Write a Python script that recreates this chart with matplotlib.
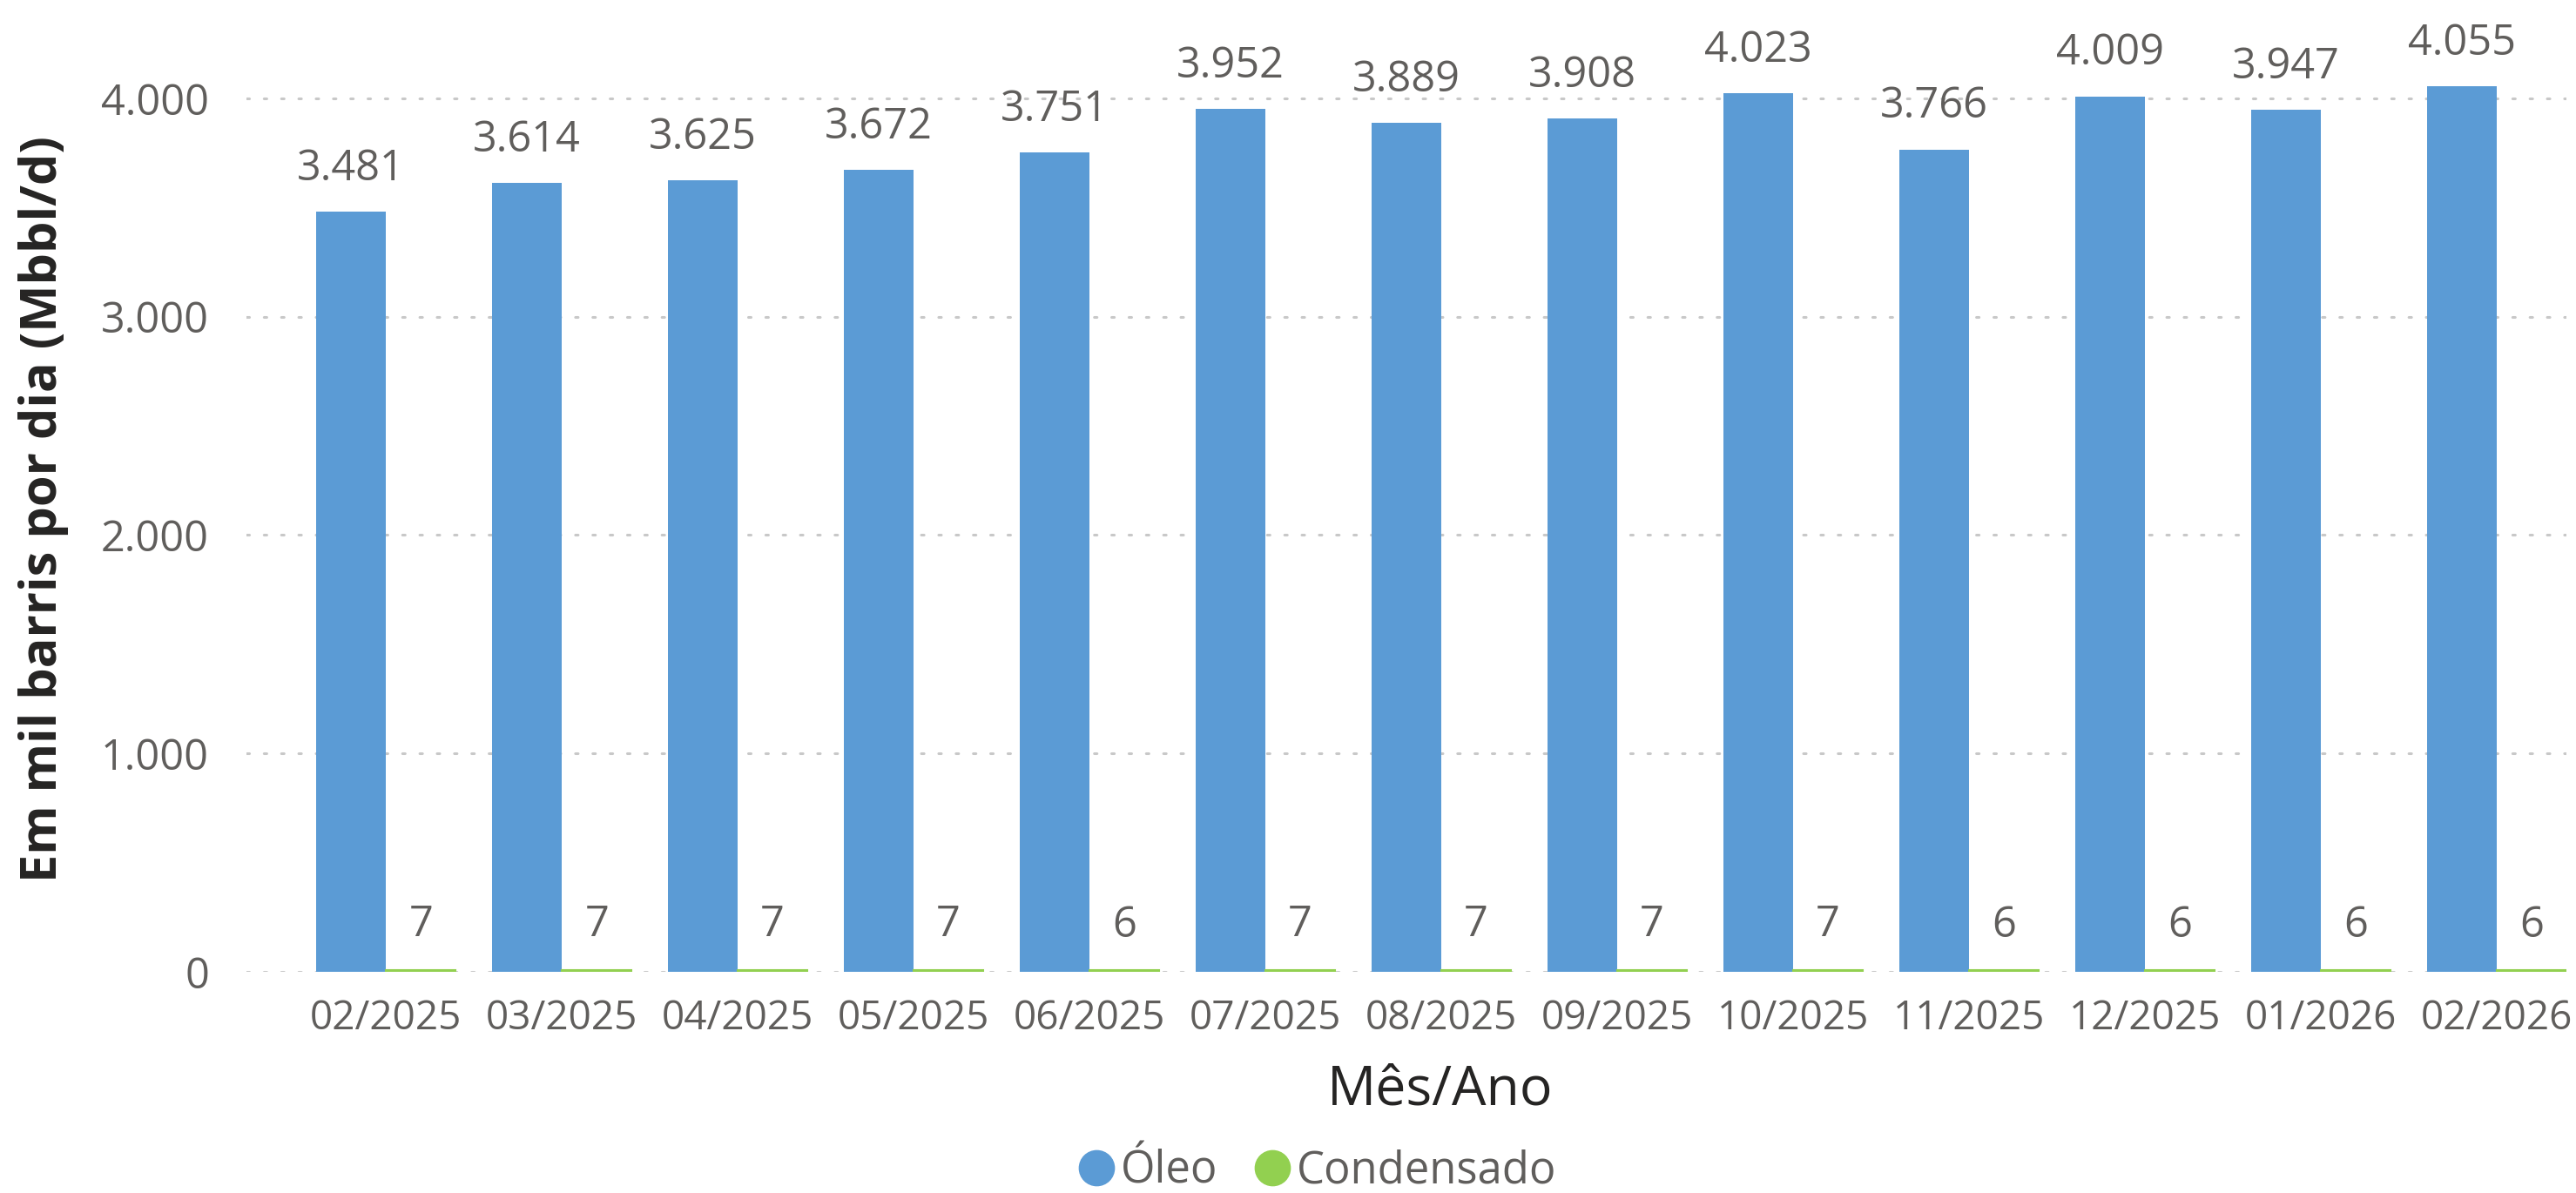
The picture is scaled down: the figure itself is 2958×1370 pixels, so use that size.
import matplotlib
matplotlib.use("Agg")
import matplotlib.pyplot as plt
from matplotlib.lines import Line2D
import numpy as np

plt.rcParams['font.family'] = ['Open Sans', 'DejaVu Sans']

months = ["02/2025", "03/2025", "04/2025", "05/2025", "06/2025", "07/2025",
          "08/2025", "09/2025", "10/2025", "11/2025", "12/2025", "01/2026", "02/2026"]
oleo = [3481, 3614, 3625, 3672, 3751, 3952, 3889, 3908, 4023, 3766, 4009, 3947, 4055]
condensado = [7, 7, 7, 7, 6, 7, 7, 7, 7, 6, 6, 6, 6]
series_names = ["Óleo", "Condensado"]
yticks = [0, 1000, 2000, 3000, 4000]
ytick_labels = ["0", "1.000", "2.000", "3.000", "4.000"]

BLUE = "#5B9BD5"
GREEN = "#92D050"
TICK = "#605E5C"
TITLE = "#252423"

W, H = 2958, 1370
fig = plt.figure(figsize=(W / 100, H / 100), dpi=100)
ax = fig.add_axes([283 / W, 1 - 1116 / H, (2947 - 283) / W, (1116 - 12.5) / H])

x = np.arange(len(months))
bw = 0.3965
ax.bar(x - bw / 2, oleo, width=bw, color=BLUE, zorder=3)
ax.bar(x + bw / 2, condensado, width=bw, color=GREEN, edgecolor=GREEN, linewidth=1.5, zorder=3)

def fmt(v):
    return f"{v:,}".replace(",", ".")

for xi, v in zip(x, oleo):
    ax.annotate(fmt(v), (xi - bw / 2, v), xytext=(0, 26), textcoords="offset points",
                ha="center", va="baseline", fontsize=35, color=TICK)
for xi, v in zip(x, condensado):
    ax.annotate(fmt(v), (xi + bw / 2, v), xytext=(0, 28), textcoords="offset points",
                ha="center", va="baseline", fontsize=35, color=TICK)

ax.set_xlim(-0.793, 12.3965)
ax.set_ylim(0, 4400)
ax.set_yticks(yticks)
ax.set_yticklabels(ytick_labels)
ax.set_xticks(x)
ax.set_xticklabels(months)
ax.tick_params(axis="y", length=0, pad=31, labelsize=35, labelcolor=TICK)
ax.tick_params(axis="x", length=0, pad=22, labelsize=33, labelcolor=TICK)
for s in ax.spines.values():
    s.set_visible(False)
ax.grid(axis="y", color="#C8C8C8", linewidth=2.2, linestyle=(0, (1, 5.5)),
        dash_capstyle="round", zorder=0)
ax.set_axisbelow(True)

fig.text(50 / W, 1 - 585 / H, "Em mil barris por dia (Mbbl/d)", rotation=90,
         ha="center", va="center", fontsize=41.5, fontweight="bold", color=TITLE)
fig.text(1654 / W, 1 - 1252 / H, "Mês/Ano", ha="center", va="center",
         fontsize=45, color=TITLE)

handles = [Line2D([], [], linestyle="none", marker="o", markersize=29,
                  markerfacecolor=c, markeredgecolor=c) for c in (BLUE, GREEN)]
leg = fig.legend(handles, series_names, loc="center", bbox_to_anchor=(1513 / W, 1 - 1345 / H),
                 ncol=2, frameon=False, fontsize=36.5, handlelength=0.8, handletextpad=0.15,
                 columnspacing=0.85, borderpad=0, borderaxespad=0)
for t in leg.get_texts():
    t.set_color(TICK)

fig.savefig("out.png", dpi=100)
